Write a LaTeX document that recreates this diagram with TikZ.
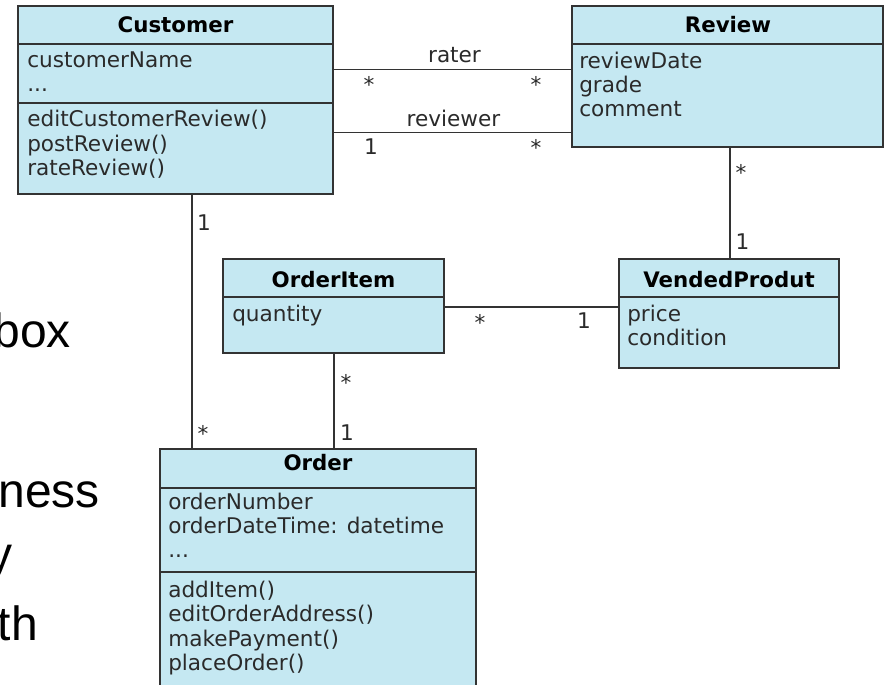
\documentclass[tikz,border=0pt]{standalone}
\usepackage{fontspec}
\setmainfont{DejaVu Sans}
\newfontfamily\bgfont{Liberation Sans}
\usetikzlibrary{fit}
\definecolor{classfill}{HTML}{C5E8F2}
\definecolor{linegray}{HTML}{333333}
\definecolor{textgray}{HTML}{2A2A2A}
\begin{document}
\begin{tikzpicture}[x=0.75pt,y=-0.75pt,
  classbox/.style={draw=linegray, fill=classfill, line width=1.4pt, inner sep=0pt},
  sepline/.style={draw=linegray, line width=1.2pt},
  conn/.style={draw=linegray, line width=1.1pt},
  hdr/.style={font=\fontsize{16}{19}\selectfont\bfseries, text=black, inner sep=0pt, anchor=base},
  attr/.style={font=\fontsize{16.2}{19}\selectfont, text=textgray, inner sep=0pt, anchor=base west},
  mult/.style={font=\fontsize{16.2}{19}\selectfont, text=textgray, inner sep=0pt, anchor=base},
  bgtext/.style={font=\bgfont\fontsize{36}{40}\selectfont, text=black, inner sep=0pt, anchor=base east}
]
\useasboundingbox (0,0) rectangle (885,685);
\clip (0,0) rectangle (885,685);
\fill[white] (0,0) rectangle (885,685);

% background slide text
\node[bgtext] (bg1) at (71,347) {box};
\node[bgtext] (bg2) at (100,507) {ness};
\node[bgtext] (bg3) at (13,570) {y};
\node[bgtext] (bg4) at (38,640) {th};

% class boxes
\node[classbox, fit={(18,6) (333,194)}] (cust) {};
\node[classbox, fit={(572,6) (883,147)}] (rev) {};
\node[classbox, fit={(619,259) (839,368)}] (vp) {};
\node[classbox, fit={(223,259) (444,353)}] (oi) {};
\node[classbox, fit={(160,449) (476,700)}] (ord) {};

% connectors between classes
\draw[conn] (cust.east |- 0,69.5) -- (rev.west |- 0,69.5);
\draw[conn] (cust.east |- 0,132.7) -- (rev.west |- 0,132.7);
\draw[conn] (rev.south -| 730,0) -- (vp.north -| 730,0);
\draw[conn] (oi.east |- 0,307) -- (vp.west |- 0,307);
\draw[conn] (cust.south -| 192,0) -- (ord.north -| 192,0);
\draw[conn] (oi.south -| 334,0) -- (ord.north -| 334,0);

% Customer
\draw[sepline] (cust.west |- 0,44) -- (cust.east |- 0,44);
\draw[sepline] (cust.west |- 0,103) -- (cust.east |- 0,103);
\node[hdr] (cust-h) at (175.5,33) {Customer};
\node[attr] (cust-a1) at (27,68) {customerName};
\node[attr] (cust-a2) at (27,92) {...};
\node[attr] (cust-m1) at (27,127) {editCustomerReview()};
\node[attr] (cust-m2) at (27,151) {postReview()};
\node[attr] (cust-m3) at (27,175) {rateReview()};

% Review
\draw[sepline] (rev.west |- 0,44) -- (rev.east |- 0,44);
\node[hdr] (rev-h) at (728,33) {Review};
\node[attr] (rev-a1) at (579,69) {reviewDate};
\node[attr] (rev-a2) at (579,93) {grade};
\node[attr] (rev-a3) at (579,117) {comment};

% VendedProdut
\draw[sepline] (vp.west |- 0,297) -- (vp.east |- 0,297);
\node[hdr] (vp-h) at (729,287) {VendedProdut};
\node[attr] (vp-a1) at (627,321) {price};
\node[attr] (vp-a2) at (627,345) {condition};

% OrderItem
\draw[sepline] (oi.west |- 0,297) -- (oi.east |- 0,297);
\node[hdr] (oi-h) at (333.5,287) {OrderItem};
\node[attr] (oi-a1) at (232,321) {quantity};

% Order
\draw[sepline] (ord.west |- 0,488) -- (ord.east |- 0,488);
\draw[sepline] (ord.west |- 0,572) -- (ord.east |- 0,572);
\node[hdr] (ord-h) at (318,470) {Order};
\node[attr] (ord-a1) at (168,509) {orderNumber};
\node[attr] (ord-a2) at (168,533) {orderDateTime: datetime};
\node[attr] (ord-a3) at (168,557) {...};
\node[attr] (ord-m1) at (168,597) {addItem()};
\node[attr] (ord-m2) at (168,621.5) {editOrderAddress()};
\node[attr] (ord-m3) at (168,646) {makePayment()};
\node[attr] (ord-m4) at (168,670.5) {placeOrder()};

% role labels
\node[mult] (l-rater) at (454.5,63) {rater};
\node[mult] (l-reviewer) at (453.5,126) {reviewer};

% multiplicities
\node[mult] (m1) at (369,93) {*};
\node[mult] (m2) at (536,93) {*};
\node[mult] (m3) at (371,154) {1};
\node[mult] (m4) at (536,155) {*};
\node[mult] (m5) at (741,180) {*};
\node[mult] (m6) at (742.5,249) {1};
\node[mult] (m7) at (480,330) {*};
\node[mult] (m8) at (584,328) {1};
\node[mult] (m9) at (204,230) {1};
\node[mult] (m10) at (203,441) {*};
\node[mult] (m11) at (346,390) {*};
\node[mult] (m12) at (347,440) {1};
\end{tikzpicture}
\end{document}
